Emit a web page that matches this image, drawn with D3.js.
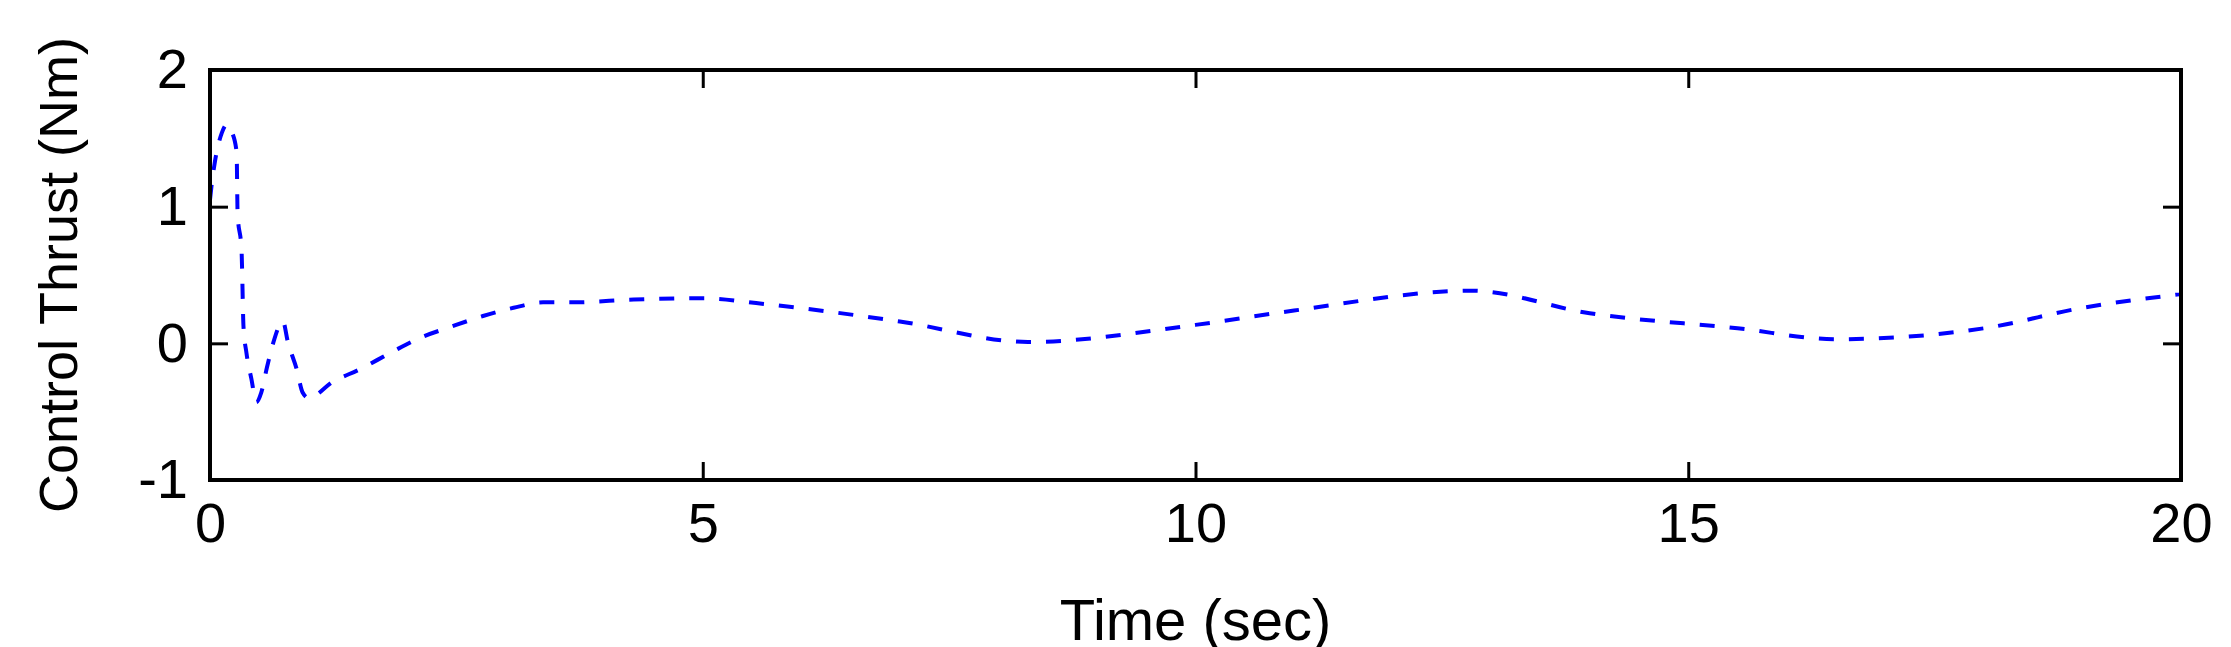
<!DOCTYPE html>
<html><head><meta charset="utf-8">
<script src="https://cdn.jsdelivr.net/npm/d3@7"></script>
<style>body{margin:0;background:#fff}</style>
</head><body>
<svg width="2231" height="647"></svg>
<script>
// temps (s) et poussee (Nm)
var temps = [0, 0.02, 0.05, 0.12, 0.17, 0.22, 0.27, 0.28, 0.32, 0.34, 0.37, 0.42, 0.47, 0.52, 0.58, 0.64, 0.74, 0.79, 0.88, 0.94, 1.0, 1.25, 1.52, 1.83, 2.13, 2.44, 2.77, 3.08, 3.38, 3.68, 4.3, 5.0, 5.6, 7.0, 8.3, 10.0, 11.0, 12.8, 14.0, 15.5, 16.5, 18.0, 19.0, 20.0]
var poussee = [1.05, 1.18, 1.33, 1.54, 1.60, 1.55, 1.40, 0.95, 0.68, 0.12, -0.07, -0.26, -0.43, -0.36, -0.17, 0.0, 0.16, 0.01, -0.19, -0.36, -0.40, -0.28, -0.19, -0.07, 0.04, 0.12, 0.20, 0.26, 0.30, 0.30, 0.32, 0.33, 0.29, 0.16, 0.01, 0.135, 0.24, 0.385, 0.22, 0.11, 0.03, 0.11, 0.26, 0.36]
var ticksX = [0, 5, 10, 15, 20]
var ticksY = [-1, 0, 1, 2]

var svg = d3.select("svg")
var g = {l:210, r:2181, t:70, b:480}
var x = d3.scaleLinear().domain([0, 20]).range([g.l, g.r])
var y = d3.scaleLinear().domain([-1, 2]).range([g.b, g.t])
var police = "Liberation Sans, Arial, sans-serif"
var fmt = function(d){return String(d)}

// courbe en pointilles
var ligne = d3.line().curve(d3.curveMonotoneX).x(function(d){return x(d[0])}).y(function(d){return y(d[1])})
svg.append("path")
  .attr("d", ligne(d3.zip(temps, poussee)))
  .attr("style", "fill:none;stroke:#0000ff;stroke-width:4;stroke-dasharray:15,15")

// axes : graduations vers l'interieur
svg.append("g").attr("transform", "translate(0,"+g.b+")")
  .call(d3.axisBottom(x).tickValues(ticksX).tickFormat(fmt).tickSizeInner(-18).tickSizeOuter(0).tickPadding(22))
svg.append("g").attr("transform", "translate(0,"+g.t+")")
  .call(d3.axisTop(x).tickValues(ticksX).tickSizeInner(-18).tickSizeOuter(0).tickFormat(""))
svg.append("g").attr("transform", "translate("+g.l+",0)")
  .call(d3.axisLeft(y).tickValues(ticksY).tickFormat(fmt).tickSizeInner(-18).tickSizeOuter(0).tickPadding(22))
svg.append("g").attr("transform", "translate("+g.r+",0)")
  .call(d3.axisRight(y).tickValues(ticksY).tickSizeInner(-18).tickSizeOuter(0).tickFormat(""))
svg.selectAll(".domain").remove()
svg.selectAll(".tick line").attr("stroke", "#000").attr("stroke-width", 3)
svg.selectAll(".tick text").attr("font-family", police).attr("font-size", 56).attr("fill", "#000")

svg.append("rect")
  .attr("x", g.l).attr("y", g.t).attr("width", g.r-g.l).attr("height", g.b-g.t)
  .attr("style", "fill:none;stroke:black;stroke-width:4")

svg.append("text").text("Time (sec)")
  .attr("x", (g.l+g.r)/2).attr("y", 640).attr("text-anchor", "middle")
  .attr("font-family", police).attr("font-size", 58)
svg.append("text").text("Control Thrust (Nm)")
  .attr("transform", "translate(77,"+((g.t+g.b)/2)+") rotate(-90)").attr("text-anchor", "middle")
  .attr("font-family", police).attr("font-size", 54)
</script>
</body></html>
